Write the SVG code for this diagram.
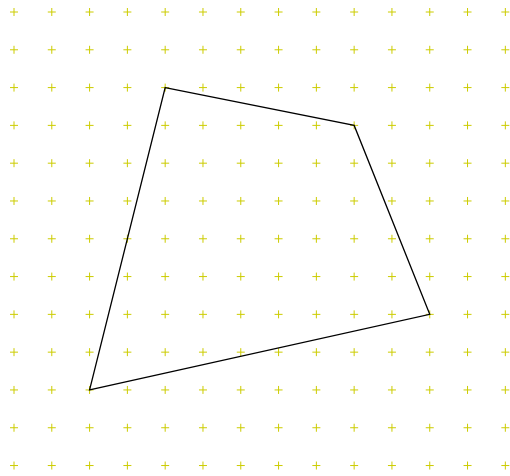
<svg xmlns="http://www.w3.org/2000/svg" width="510" height="476" viewBox="0 0 510 476">
<style>
.g line{stroke:#cccc00;stroke-width:1;stroke-dasharray:8 29.795}
.poly{fill:none;stroke:#000;stroke-width:1.3;stroke-linejoin:miter}
</style>
<rect width="510" height="476" fill="#fff"/>
<g id="grid" class="g">
<line x1="10" y1="12" x2="510" y2="12"/>
<line x1="10" y1="49.795" x2="510" y2="49.795"/>
<line x1="10" y1="87.59" x2="510" y2="87.59"/>
<line x1="10" y1="125.385" x2="510" y2="125.385"/>
<line x1="10" y1="163.18" x2="510" y2="163.18"/>
<line x1="10" y1="200.975" x2="510" y2="200.975"/>
<line x1="10" y1="238.77" x2="510" y2="238.77"/>
<line x1="10" y1="276.565" x2="510" y2="276.565"/>
<line x1="10" y1="314.36" x2="510" y2="314.36"/>
<line x1="10" y1="352.155" x2="510" y2="352.155"/>
<line x1="10" y1="389.95" x2="510" y2="389.95"/>
<line x1="10" y1="427.745" x2="510" y2="427.745"/>
<line x1="10" y1="465.54" x2="510" y2="465.54"/>
<line x1="14" y1="8" x2="14" y2="476"/>
<line x1="51.795" y1="8" x2="51.795" y2="476"/>
<line x1="89.59" y1="8" x2="89.59" y2="476"/>
<line x1="127.385" y1="8" x2="127.385" y2="476"/>
<line x1="165.18" y1="8" x2="165.18" y2="476"/>
<line x1="202.975" y1="8" x2="202.975" y2="476"/>
<line x1="240.77" y1="8" x2="240.77" y2="476"/>
<line x1="278.565" y1="8" x2="278.565" y2="476"/>
<line x1="316.36" y1="8" x2="316.36" y2="476"/>
<line x1="354.155" y1="8" x2="354.155" y2="476"/>
<line x1="391.95" y1="8" x2="391.95" y2="476"/>
<line x1="429.745" y1="8" x2="429.745" y2="476"/>
<line x1="467.54" y1="8" x2="467.54" y2="476"/>
<line x1="505.335" y1="8" x2="505.335" y2="476"/>
</g>
<polygon class="poly" points="165.18,87.59 354.155,125.385 429.745,314.36 89.59,389.95"/>
</svg>
